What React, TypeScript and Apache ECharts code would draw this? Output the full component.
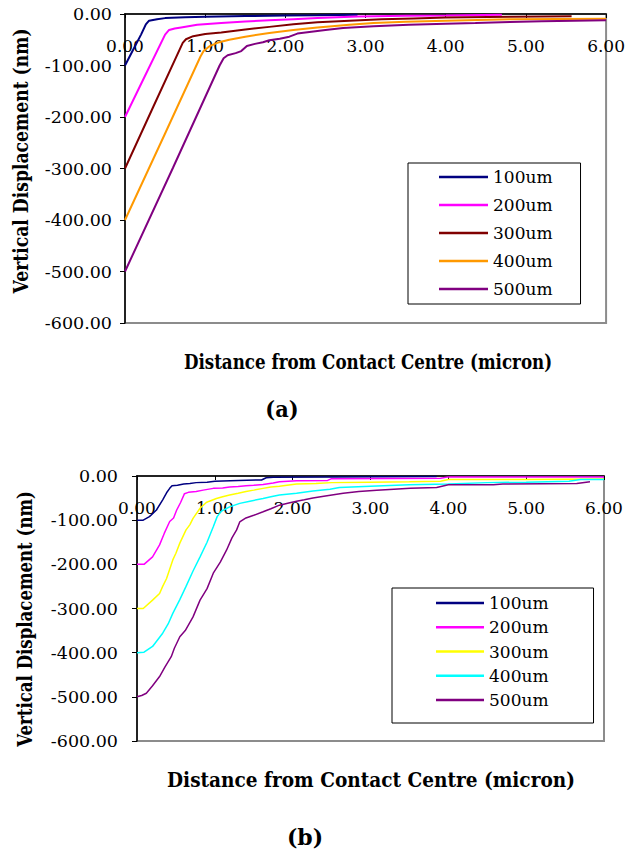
import React, { useEffect, useRef } from "react";
import * as echarts from "echarts";

const SERIES_NAMES = ["100um", "200um", "300um", "400um", "500um"];
const COLORS_A = ["#000080", "#FF00FF", "#800000", "#FF9900", "#800080"];
const COLORS_B = ["#000080", "#FF00FF", "#FFFF00", "#00FFFF", "#800080"];

const X_MIN = 0;
const X_MAX = 6;
const X_STEP = 1;
const Y_MIN = -600;
const Y_MAX = 0;
const Y_STEP = 100;

const X_TITLE = "Distance from Contact Centre (micron)";
const Y_TITLE = "Vertical Displacement (nm)";

// Chart (a) data: [distance (micron), displacement (nm)]
const a100: number[][] = [
  [0, -100], [0.1, -70], [0.2, -40], [0.26, -20], [0.3, -13], [0.4, -10], [0.5, -8],
  [0.75, -6.5], [1.0, -5.5], [1.5, -4], [2.0, -3], [2.4, -2.5], [2.9, -1.5],
];
const a200: number[][] = [
  [0, -200], [0.25, -120], [0.5, -40], [0.55, -31], [0.62, -28], [0.7, -26], [0.9, -21],
  [1.2, -17.5], [1.5, -14.5], [1.8, -12], [2.1, -10], [2.4, -8], [2.9, -5], [3.5, -3.5],
  [4.0, -3], [4.7, -1.5],
];
const a300: number[][] = [
  [0, -300], [0.35, -181], [0.72, -56], [0.76, -49], [0.85, -43], [1.0, -39], [1.2, -36],
  [1.5, -30], [1.8, -25], [2.1, -20], [2.4, -16], [2.8, -13], [3.2, -10], [3.6, -8.5],
  [4.0, -7], [4.8, -5.5], [5.57, -4.5],
];
const a400: number[][] = [
  [0, -400], [0.5, -232], [0.94, -83], [0.98, -72], [1.05, -63], [1.15, -56], [1.3, -50],
  [1.5, -44], [1.8, -37], [2.1, -31], [2.4, -26], [2.8, -21], [3.1, -17.5], [3.5, -15],
  [4.0, -13], [4.8, -10], [5.4, -9.5], [6.0, -9],
];
const a500: number[][] = [
  [0, -500], [0.6, -298], [1.18, -100], [1.23, -86], [1.28, -80], [1.38, -76], [1.45, -72],
  [1.52, -62], [1.62, -58], [1.72, -55], [1.8, -51], [1.93, -48], [2.05, -44], [2.15, -38],
  [2.3, -35], [2.5, -31], [2.72, -27], [3.1, -24], [3.54, -21], [4.0, -19], [4.37, -17.5],
  [4.8, -15.5], [5.2, -14], [5.6, -13], [6.0, -12],
];

// Chart (b) data
const b100: number[][] = [
  [0, -100], [0.08, -100], [0.16, -92], [0.25, -77], [0.33, -54], [0.38, -38], [0.42, -28],
  [0.45, -22], [0.52, -21], [0.6, -18], [0.68, -17], [0.76, -15], [0.9, -14], [1.0, -12],
  [1.3, -10], [1.6, -9], [1.66, -4], [1.75, -3], [2.5, -2], [3.85, -1],
];
const b200: number[][] = [
  [0, -200], [0.09, -200], [0.2, -183], [0.29, -156], [0.35, -130], [0.42, -103], [0.47, -95],
  [0.51, -77], [0.56, -60], [0.61, -40], [0.66, -37], [0.76, -35], [0.85, -32], [0.98, -28],
  [1.1, -27], [1.19, -25], [1.3, -24], [1.4, -22], [1.5, -21], [1.62, -19], [1.75, -16],
  [1.83, -13], [2.05, -11], [2.45, -10], [2.5, -6], [3.9, -5], [4.0, -2], [6.0, -2],
];
const b300: number[][] = [
  [0, -300], [0.08, -300], [0.2, -281], [0.29, -266], [0.33, -250], [0.38, -232], [0.46, -190],
  [0.5, -175], [0.55, -152], [0.63, -122], [0.68, -110], [0.72, -96], [0.81, -73], [0.89, -60],
  [0.93, -57], [1.02, -51], [1.1, -47], [1.19, -43], [1.3, -39], [1.4, -35], [1.5, -32],
  [1.62, -28], [1.72, -25], [1.83, -23], [2.05, -18], [2.3, -17], [2.5, -15], [3.0, -14],
  [3.5, -13], [3.9, -12], [4.0, -8], [5.0, -8], [6.0, -7],
];
const b400: number[][] = [
  [0, -400], [0.09, -399], [0.2, -386], [0.33, -356], [0.4, -335], [0.46, -311], [0.55, -280],
  [0.63, -250], [0.72, -215], [0.81, -183], [0.9, -150], [0.98, -115], [1.03, -92], [1.08, -80],
  [1.19, -70], [1.32, -62], [1.45, -57], [1.62, -51], [1.72, -47], [1.83, -43], [2.05, -39],
  [2.26, -34], [2.48, -30], [2.6, -26], [3.0, -23], [3.5, -20], [4.0, -18], [4.5, -15],
  [5.0, -14], [5.55, -12], [5.7, -8], [6.0, -8],
];
const b500: number[][] = [
  [0, -500], [0.06, -497], [0.12, -492], [0.2, -475], [0.29, -454], [0.36, -432], [0.44, -409],
  [0.48, -390], [0.55, -364], [0.62, -350], [0.72, -319], [0.81, -281], [0.9, -255], [0.98, -220],
  [1.07, -195], [1.15, -168], [1.22, -140], [1.28, -122], [1.32, -104], [1.4, -95], [1.5, -89],
  [1.62, -81], [1.72, -74], [1.83, -66], [1.95, -61], [2.05, -57], [2.15, -54], [2.26, -50],
  [2.4, -46], [2.65, -39], [2.85, -35], [3.08, -32], [3.3, -30], [3.51, -28], [3.85, -26],
  [4.0, -20], [4.58, -20], [4.7, -18], [5.65, -17], [5.82, -13],
];

const DATA_A = [a100, a200, a300, a400, a500];
const DATA_B = [b100, b200, b300, b400, b500];

const FONT = "DejaVu Serif";

type Cfg = {
  data: number[][][];
  colors: string[];
  grid: { left: number; top: number; width: number; height: number };
  yLabelMargin: number;
  lineWidth: number;
  legend: { left: number; top: number; padding: number[]; itemWidth: number; itemGap: number };
  yTitle: { x: number; y: number; scaleX: number };
  xTitle: { x: number; y: number; scaleX: number };
  tag: { text: string; x: number; y: number; scaleX: number };
};

function buildOption(c: Cfg) {
  const titleStyle = {
    fill: "#000",
    fontFamily: FONT,
    fontWeight: "bold",
    fontSize: 20,
    align: "center",
    verticalAlign: "middle",
  };
  return {
    animation: false,
    backgroundColor: "#ffffff",
    grid: {
      ...c.grid,
      show: true,
      borderColor: "#8c8c8c",
      borderWidth: 2,
      backgroundColor: "transparent",
    },
    xAxis: {
      type: "value",
      position: "top",
      min: X_MIN,
      max: X_MAX,
      interval: X_STEP,
      axisLine: { show: true, onZero: false, lineStyle: { color: "#000", width: 1.5 } },
      axisTick: { show: true, inside: true, length: 4, lineStyle: { color: "#000" } },
      axisLabel: {
        inside: true,
        margin: 23,
        color: "#000",
        fontFamily: FONT,
        fontSize: 17,
        formatter: (v: number) => v.toFixed(2),
      },
      splitLine: { show: false },
    },
    yAxis: {
      type: "value",
      min: Y_MIN,
      max: Y_MAX,
      interval: Y_STEP,
      axisLine: { show: true, onZero: false, lineStyle: { color: "#000", width: 1.5 } },
      axisTick: { show: true, inside: false, length: 5, lineStyle: { color: "#000" } },
      axisLabel: {
        margin: c.yLabelMargin,
        color: "#000",
        fontFamily: FONT,
        fontSize: 17.5,
        formatter: (v: number) => v.toFixed(2),
      },
      splitLine: { show: false },
    },
    legend: {
      orient: "vertical",
      left: c.legend.left,
      top: c.legend.top,
      padding: c.legend.padding,
      itemWidth: c.legend.itemWidth,
      itemHeight: 2.5,
      itemGap: c.legend.itemGap,
      icon: "rect",
      selectedMode: false,
      backgroundColor: "#ffffff",
      borderColor: "#000",
      borderWidth: 1,
      borderRadius: 0,
      data: SERIES_NAMES,
      textStyle: { color: "#000", fontFamily: FONT, fontSize: 17, lineHeight: 20 },
    },
    series: SERIES_NAMES.map((name, i) => ({
      name,
      type: "line",
      data: c.data[i],
      symbol: "none",
      showSymbol: false,
      smooth: false,
      lineStyle: { color: c.colors[i], width: c.lineWidth },
      itemStyle: { color: c.colors[i] },
      z: 2 + i,
    })),
    graphic: [
      {
        type: "text",
        x: c.yTitle.x,
        y: c.yTitle.y,
        rotation: Math.PI / 2,
        scaleX: c.yTitle.scaleX,
        style: { ...titleStyle, text: Y_TITLE },
      },
      {
        type: "text",
        x: c.xTitle.x,
        y: c.xTitle.y,
        scaleX: c.xTitle.scaleX,
        style: { ...titleStyle, text: X_TITLE },
      },
      {
        type: "text",
        x: c.tag.x,
        y: c.tag.y,
        scaleX: c.tag.scaleX,
        style: { ...titleStyle, fontSize: 22, text: c.tag.text },
      },
    ],
  };
}

const CFG_A: Cfg = {
  data: DATA_A,
  colors: COLORS_A,
  grid: { left: 125, top: 14, width: 485, height: 309 },
  yLabelMargin: 13,
  lineWidth: 2,
  legend: { left: 408, top: 163, padding: [4, 28, 5, 31], itemWidth: 49, itemGap: 8 },
  yTitle: { x: 20, y: 161, scaleX: 0.86 },
  xTitle: { x: 368, y: 362, scaleX: 0.836 },
  tag: { text: "(a)", x: 282, y: 409, scaleX: 0.95 },
};

const CFG_B: Cfg = {
  data: DATA_B,
  colors: COLORS_B,
  grid: { left: 137, top: 46, width: 467, height: 265 },
  yLabelMargin: 19,
  lineWidth: 1.5,
  legend: { left: 392, top: 158, padding: [5, 45, 13, 44], itemWidth: 48, itemGap: 4.25 },
  yTitle: { x: 25, y: 189, scaleX: 0.83 },
  xTitle: { x: 371, y: 350, scaleX: 0.926 },
  tag: { text: "(b)", x: 305, y: 407, scaleX: 1.0 },
};

function ChartBox({ cfg, top, height }: { cfg: Cfg; top: number; height: number }) {
  const ref = useRef<HTMLDivElement | null>(null);
  useEffect(() => {
    if (!ref.current) return;
    const chart = echarts.init(ref.current, undefined, { renderer: "svg" });
    chart.setOption(buildOption(cfg) as any);
    return () => chart.dispose();
  }, [cfg]);
  return (
    <div
      ref={ref}
      style={{ position: "absolute", left: 0, top, width: 628, height }}
    />
  );
}

export default function App() {
  return (
    <div
      style={{
        position: "fixed",
        left: 0,
        top: 0,
        width: 628,
        height: 852,
        background: "#ffffff",
        overflow: "hidden",
      }}
    >
      <ChartBox cfg={CFG_A} top={0} height={430} />
      <ChartBox cfg={CFG_B} top={430} height={422} />
    </div>
  );
}
